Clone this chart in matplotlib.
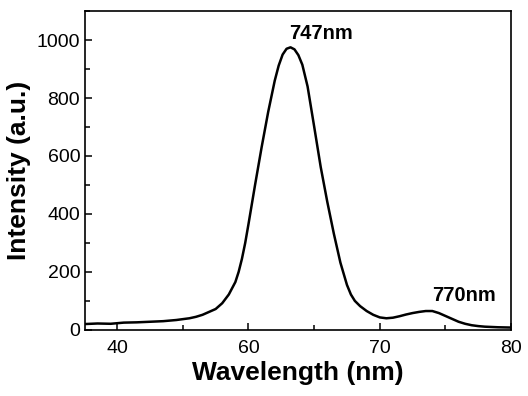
import matplotlib
matplotlib.use("Agg")
import matplotlib.pyplot as plt
from matplotlib.ticker import MultipleLocator

# spectrum
wavelength = [47.5, 48.5, 49.5, 50.5, 51.5, 52.5, 53.5, 54.5, 55.5, 56.0,
              56.5, 57.0, 57.5, 58.0, 58.5, 59.0, 59.25, 59.5, 59.75, 60.0,
              60.5, 61.0, 61.5, 62.0, 62.3, 62.6, 62.9, 63.2, 63.5, 63.8,
              64.1, 64.5, 65.0, 65.5, 66.0, 66.5, 67.0, 67.5, 67.8, 68.1,
              68.5, 69.0, 69.5, 70.0, 70.5, 71.0, 71.5, 72.0, 72.5, 73.0,
              73.5, 74.0, 74.5, 75.0, 75.5, 76.0, 76.5, 77.0, 77.5, 78.0,
              79.0, 80.0]
intensity = [20, 22, 21, 25, 26, 28, 30, 34, 40, 45,
             52, 62, 72, 92, 122, 165, 200, 245, 300, 365,
             500, 630, 752, 860, 912, 950, 970, 975, 968, 948,
             915, 840, 702, 562, 442, 332, 232, 155, 122, 100,
             82, 65, 52, 43, 40, 42, 47, 53, 58, 62,
             65, 65, 58, 48, 38, 28, 21, 16, 13, 11,
             9, 8]

x_ticks = [50, 60, 70, 80]
x_tick_labels = ["40", "60", "70", "80"]
y_ticks = [0, 200, 400, 600, 800, 1000]

peak_labels = ["747nm", "770nm"]
peak_pos = [(65.5, 1022), (76.4, 118)]

plt.rcParams["font.family"] = ["Liberation Sans", "DejaVu Sans"]

fig = plt.figure(figsize=(5.28, 3.96), dpi=100)
ax = fig.add_axes([0.161, 0.167, 0.807, 0.805])

ax.plot(wavelength, intensity, color="black", lw=1.8)

for lab, (px, py) in zip(peak_labels, peak_pos):
    ax.text(px, py, lab, ha="center", va="center", fontsize=14.5, fontweight="bold")

ax.set_xlim(47.55, 80)
ax.set_ylim(0, 1100)
ax.set_xticks(x_ticks)
ax.set_xticklabels(x_tick_labels)
ax.set_yticks(y_ticks)
ax.xaxis.set_minor_locator(MultipleLocator(5))
ax.yaxis.set_minor_locator(MultipleLocator(100))
ax.tick_params(which="both", direction="in", width=1.1, labelsize=14)
ax.tick_params(which="major", length=5)
ax.tick_params(which="minor", length=3.5)
ax.tick_params(axis="x", pad=7)
for s in ax.spines.values():
    s.set_linewidth(1.2)

ax.set_xlabel("Wavelength (nm)", fontsize=19, fontweight="bold", labelpad=3)
ax.set_ylabel("Intensity (a.u.)", fontsize=19, fontweight="bold", labelpad=4)

fig.savefig("out.png", dpi=100)
